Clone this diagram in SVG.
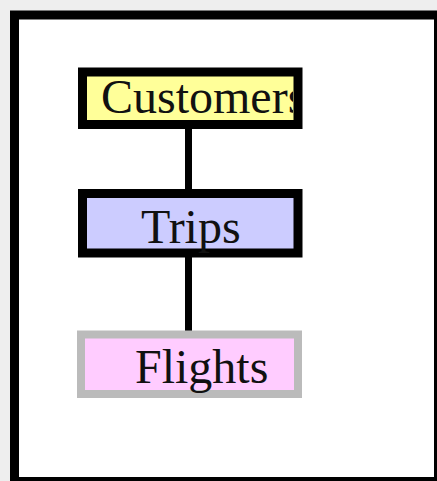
<svg xmlns="http://www.w3.org/2000/svg" width="437" height="481" viewBox="0 0 437 481">
  <style>
    .lbl { font-family: "Liberation Serif", "Times New Roman", serif; font-size: 48px; fill: #111; }
    .edge { stroke: #000; stroke-width: 7; fill: none; }
  </style>
  <defs>
    <clipPath id="clipC"><rect x="87" y="76" width="206" height="44"/></clipPath>
  </defs>
  <rect x="0" y="0" width="437" height="481" fill="#eeeeee"/>
  <rect id="frame" x="14.5" y="15" width="424" height="466.5" fill="#ffffff" stroke="#000" stroke-width="9"/>
  <g id="connectors">
    <line class="edge" x1="188.5" y1="128" x2="188.5" y2="190"/>
    <line class="edge" x1="188.5" y1="256" x2="188.5" y2="331"/>
  </g>
  <g id="customers">
    <rect x="82.5" y="72" width="215.5" height="52.5" fill="#ffff99" stroke="#000" stroke-width="9"/>
    <text class="lbl" x="101" y="113" clip-path="url(#clipC)">Customers</text>
  </g>
  <g id="trips">
    <rect x="82.5" y="193.5" width="215.5" height="59.5" fill="#ccccff" stroke="#000" stroke-width="9"/>
    <text class="lbl" x="141" y="243">Trips</text>
  </g>
  <g id="flights">
    <rect x="81" y="334.5" width="217" height="59.5" fill="#ffccff" stroke="#bbbbbb" stroke-width="8"/>
    <text class="lbl" x="135" y="383">Flights</text>
  </g>
</svg>
